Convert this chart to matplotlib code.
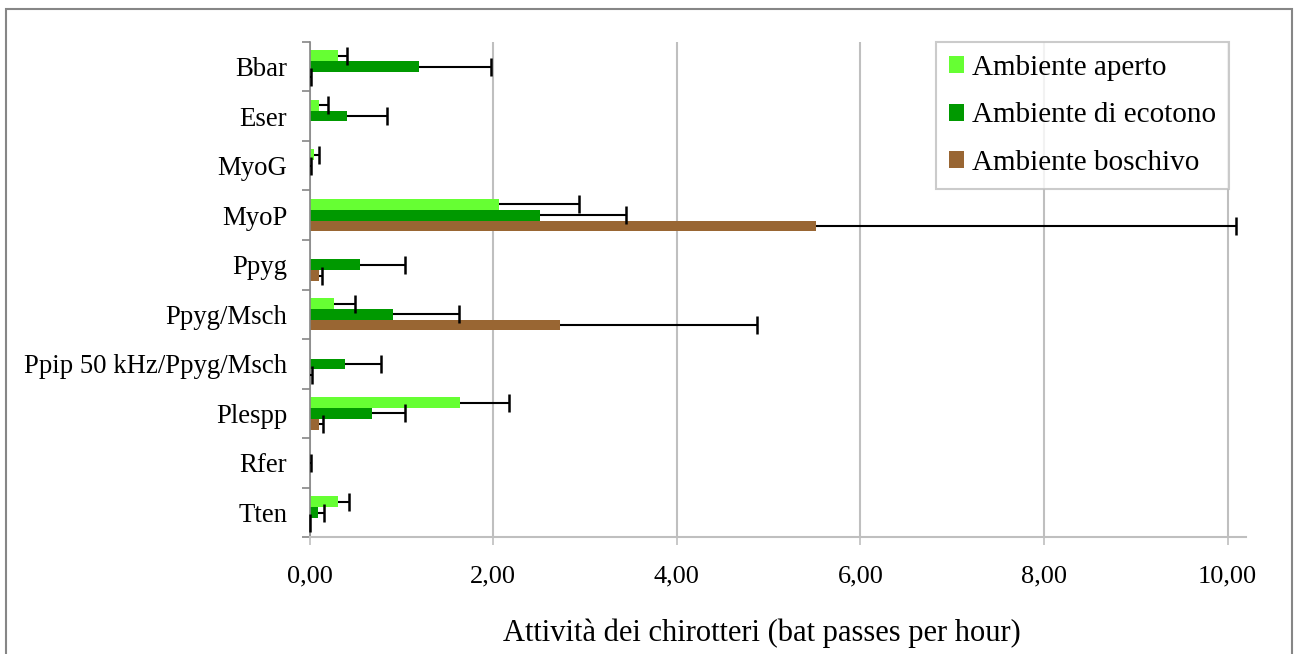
import numpy as np
import matplotlib
matplotlib.use("Agg")
import matplotlib.pyplot as plt
from matplotlib.patches import Rectangle

plt.rcParams['font.family'] = ['Liberation Serif', 'DejaVu Serif']

# specie (dall'alto in basso)
specie = ["Bbar", "Eser", "MyoG", "MyoP", "Ppyg", "Ppyg/Msch",
          "Ppip 50 kHz/Ppyg/Msch", "Plespp", "Rfer", "Tten"]

# medie (bat passes per hour)
aperto = [0.305, 0.10, 0.05, 2.06, 0.0, 0.265, 0.0, 1.64, 0.0, 0.305]
ecotono = [1.19, 0.41, 0.0, 2.51, 0.55, 0.91, 0.39, 0.68, 0.0, 0.09]
boschivo = [0.0, 0.0, 0.0, 5.52, 0.10, 2.73, 0.01, 0.105, 0.0, 0.0]

# barre d'errore (solo positive), nan = nessuna barra
err_aperto = [0.10, 0.10, 0.055, 0.87, np.nan, 0.235, np.nan, 0.53, np.nan, 0.125]
err_ecotono = [0.79, 0.43, 0.02, 0.94, 0.49, 0.72, 0.39, 0.36, 0.02, 0.065]
err_boschivo = [0.02, np.nan, np.nan, 4.57, 0.04, 2.145, 0.02, 0.045, np.nan, 0.01]

serie = [("Ambiente aperto", aperto, err_aperto, "#66FF33"),
         ("Ambiente di ecotono", ecotono, err_ecotono, "#009900"),
         ("Ambiente boschivo", boschivo, err_boschivo, "#996633")]

fig = plt.figure(figsize=(12.94, 6.54), dpi=100)
ax = fig.add_axes([0.2392, 0.1784, 0.9629 - 0.2392, 0.9362 - 0.1784])

y = np.arange(len(specie))
h = 0.215
for k, (nome, val, err, col) in enumerate(serie):
    pos = y + (k - 1) * 0.218
    val = np.array(val)
    err = np.array(err)
    ax.barh(pos, val, height=h, color=col, label=nome, zorder=2)
    # errore solo positivo, con cappuccio solo all'estremita
    ax.hlines(pos, val, val + err, color='black', linewidth=1.5, zorder=3,
              clip_on=False)
    ax.plot(val + err, pos, ls='none', marker='|', markersize=13,
            markeredgewidth=1.8, color='black', zorder=3, clip_on=False)

ax.set_ylim(len(specie) - 0.5, -0.5)
ax.set_xlim(0, 10.2)
ax.set_xticks(np.arange(0, 11, 2))
ax.set_xticklabels([f"{v:.2f}".replace('.', ',') for v in np.arange(0, 11, 2)])
ax.set_yticks(np.arange(-0.5, len(specie), 1))
ax.set_yticklabels([])
ax.set_yticks(y, minor=True)
ax.set_yticklabels(specie, minor=True)

ax.tick_params(axis='y', which='major', direction='out', length=6,
               color='#868686', width=1.2)
ax.tick_params(axis='y', which='minor', length=0, pad=16, labelsize=19.3)
ax.tick_params(axis='x', direction='out', length=6, color='#BFBFBF',
               width=1.2, pad=14, labelsize=19)

ax.grid(axis='x', color='#BFBFBF', linewidth=1.5, zorder=0)
ax.set_axisbelow(True)
for s in ['top', 'right']:
    ax.spines[s].set_visible(False)
ax.spines['left'].set_color('#868686')
ax.spines['left'].set_linewidth(1.2)
ax.spines['bottom'].set_color('#BFBFBF')
ax.spines['bottom'].set_linewidth(1.5)

leg = ax.legend(loc='upper right', bbox_to_anchor=(1229 / 1294, 1 - 41.7 / 654),
                bbox_transform=fig.transFigure, fontsize=21, frameon=True,
                fancybox=False, handlelength=0.52, handleheight=0.52,
                handletextpad=0.25, labelspacing=0.74, borderpad=0.45,
                borderaxespad=0)
leg.get_frame().set_edgecolor('#BFBFBF')
leg.get_frame().set_linewidth(1.5)

fig.text(0.5885, 0.032, "Attività dei chirotteri (bat passes per hour)",
         ha='center', va='center', fontsize=22)

fig.patches.append(Rectangle((6 / 1294, -0.05), (1291.7 - 6) / 1294, 1.05 - 9.3 / 654,
                             transform=fig.transFigure, fill=False,
                             edgecolor='#868686', linewidth=1.5))

fig.savefig("out.png", dpi=100)
